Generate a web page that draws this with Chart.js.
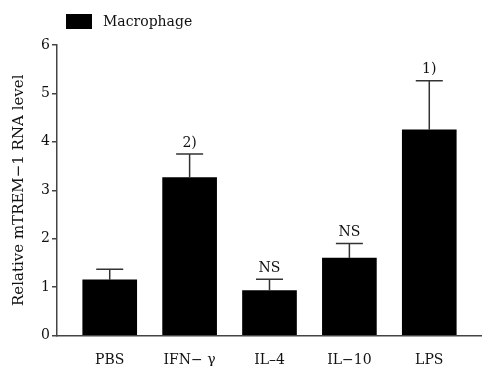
<!DOCTYPE html>
<html>
<head>
<meta charset="utf-8">
<script src="https://cdn.jsdelivr.net/npm/chart.js@4"></script>
<style>
  html, body { margin: 0; padding: 0; background: #fff; }
  #wrap { width: 482px; height: 366px; }
</style>
</head>
<body>
<div id="wrap"><canvas id="chartCanvas" width="482" height="366"></canvas></div>
<script>
// data
var groups = ['PBS', 'IFN\u2212 \u03b3', 'IL\u20134', 'IL\u221210', 'LPS']
var means = [1.15, 3.26, 0.93, 1.60, 4.25]
var errTops = [1.37, 3.75, 1.16, 1.90, 5.26]
var marks = ['', '2)', 'NS', 'NS', '1)']
var seriesName = 'Macrophage'
var yTicks = [0, 1, 2, 3, 4, 5, 6]

var serif = "'DejaVu Serif', 'Liberation Serif', serif"
var axisCol = '#444'

// error bars + significance marks
var errorBars = {
    id: 'errorBars',
    afterDatasetsDraw(chart) {
        var ctx = chart.ctx
        var xs = chart.scales.x, ys = chart.scales.y
        ctx.save()
        ctx.strokeStyle = '#333'
        ctx.lineWidth = 1.5
        ctx.fillStyle = '#111'
        ctx.font = '14px ' + serif
        ctx.textAlign = 'center'
        ctx.textBaseline = 'bottom'
        means.forEach((m, i) => {
            var x = xs.getPixelForValue(i)
            var y0 = ys.getPixelForValue(m)
            var y1 = ys.getPixelForValue(errTops[i])
            ctx.beginPath()
            ctx.moveTo(x, y0)
            ctx.lineTo(x, y1)
            ctx.moveTo(x - 13.5, y1)
            ctx.lineTo(x + 13.5, y1)
            ctx.stroke()
            if (marks[i]) ctx.fillText(marks[i], x, y1 - 4)
        })
        ctx.restore()
    }
}

// small legend in the top left corner
var cornerLegend = {
    id: 'cornerLegend',
    afterDraw(chart) {
        var ctx = chart.ctx
        var ds = chart.data.datasets[0]
        ctx.save()
        ctx.fillStyle = ds.backgroundColor
        ctx.fillRect(66, 14, 26, 15)
        ctx.fillStyle = '#111'
        ctx.font = '14px ' + serif
        ctx.textAlign = 'left'
        ctx.textBaseline = 'middle'
        ctx.fillText(ds.label, 103, 22)
        ctx.restore()
    }
}

new Chart(document.getElementById('chartCanvas'), {
    type: 'bar',
    data: {
        datasets: [{
            label: seriesName,
            data: means.map((v, i) => ({ x: i, y: v })),
            backgroundColor: '#000',
            borderWidth: 0,
            barThickness: 54
        }]
    },
    options: {
        responsive: false,
        animation: false,
        layout: { padding: { top: 45, left: 10, right: 0, bottom: 0 } },
        plugins: { legend: { display: false }, tooltip: { enabled: false } },
        scales: {
            x: {
                type: 'linear',
                offset: false,
                min: -0.66,
                max: 4.66,
                afterBuildTicks: s => { s.ticks = groups.map((g, i) => ({ value: i })) },
                afterFit: s => { s.height = 30.5 },
                grid: { display: false, offset: false },
                border: { color: axisCol, width: 1.5 },
                ticks: {
                    callback: v => groups[v],
                    color: '#111',
                    font: { family: serif, size: 14 },
                    padding: 8,
                    maxRotation: 0,
                    autoSkip: false
                }
            },
            y: {
                min: 0,
                max: 6,
                afterBuildTicks: s => { s.ticks = yTicks.map(v => ({ value: v })) },
                afterFit: s => { s.width = 47 },
                grid: { drawOnChartArea: false, drawTicks: true, tickLength: 5, color: axisCol, lineWidth: 1.5 },
                border: { color: axisCol, width: 1.5 },
                ticks: { color: '#111', font: { family: serif, size: 14 }, padding: 2 },
                title: {
                    display: true,
                    text: 'Relative mTREM\u22121 RNA level',
                    color: '#111',
                    font: { family: serif, size: 15 },
                    padding: { top: 0, bottom: 0 }
                }
            }
        }
    },
    plugins: [errorBars, cornerLegend]
})
</script>
</body>
</html>
